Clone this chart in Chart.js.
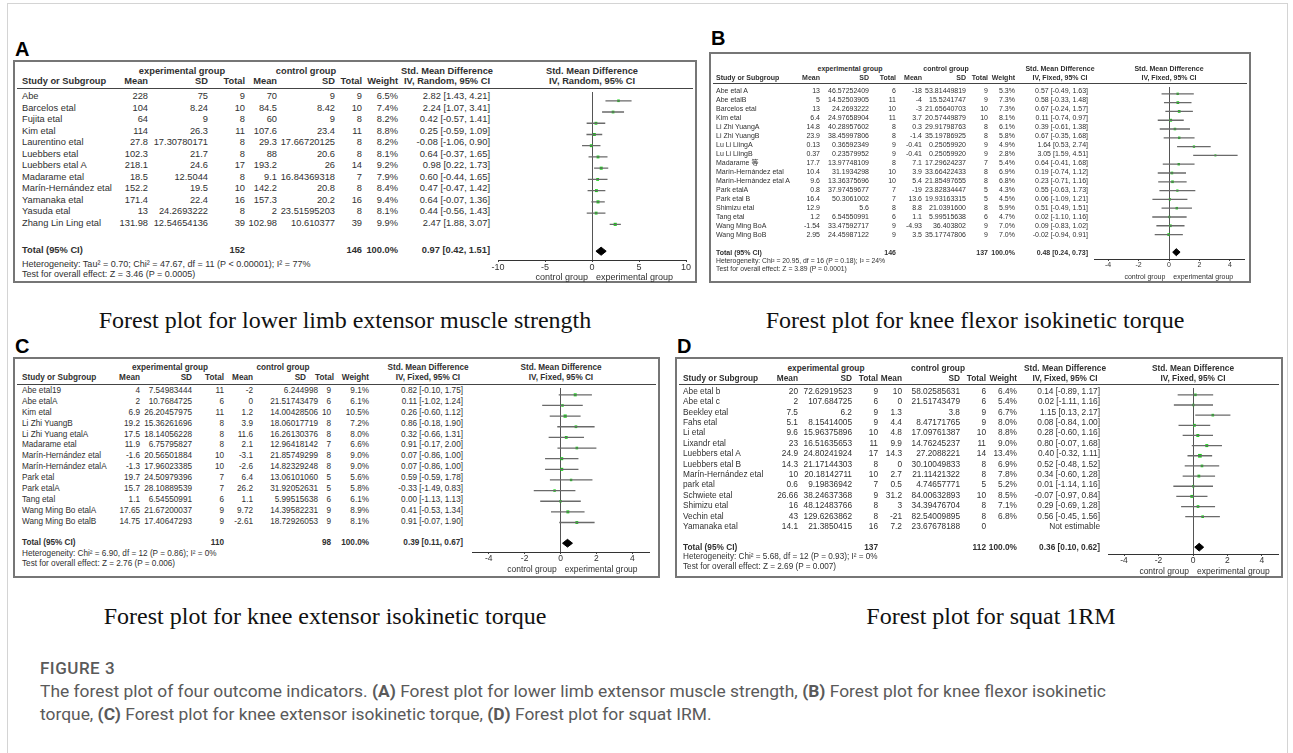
<!DOCTYPE html>
<html>
<head>
<meta charset="utf-8">
<script src="https://cdn.jsdelivr.net/npm/chart.js@4.4.0/dist/chart.umd.min.js"></script>
<style>
  body { margin: 0; background: #fff; }
  #fig { position: relative; width: 1293px; height: 753px; overflow: hidden; background: #fff; }
  #fig .t { position: absolute; white-space: nowrap; font-family: "Liberation Sans", "Noto Sans CJK SC", sans-serif; color: #303030; }
  #fig .box { position: absolute; box-sizing: border-box; border: 2px solid #767676; background: #fff; }
  #fig .rule { position: absolute; height: 1px; background: #444; }
  #fig canvas { position: absolute; }
  #frame { position: absolute; left: 7px; top: 3px; width: 1279px; height: 800px; border: 1px solid #d4d4d4; }
</style>
</head>
<body>
<div id="fig"><div id="frame"></div></div>
<script>
// ---- A: lower limb extensor muscle strength (random effects)
const aStudy = ['Abe', 'Barcelos etal', 'Fujita etal', 'Kim etal', 'Laurentino etal', 'Luebbers etal', 'Luebbers etal A', 'Madarame etal', 'Marín-Hernández etal', 'Yamanaka etal', 'Yasuda etal', 'Zhang Lin Ling etal'];
const aExpMean = ['228', '104', '64', '114', '27.8', '102.3', '218.1', '18.5', '152.2', '171.4', '13', '131.98'];
const aExpSD = ['75', '8.24', '9', '26.3', '17.30780171', '21.7', '24.6', '12.5044', '19.5', '22.4', '24.2693222', '12.54654136'];
const aExpN = [9, 10, 8, 11, 8, 8, 17, 8, 10, 16, 8, 39];
const aCtlMean = ['70', '84.5', '60', '107.6', '29.3', '88', '193.2', '9.1', '142.2', '157.3', '2', '102.98'];
const aCtlSD = ['9', '8.42', '9', '23.4', '17.66720125', '20.6', '26', '16.84369318', '20.8', '20.2', '23.51595203', '10.610377'];
const aCtlN = [9, 10, 8, 11, 8, 8, 14, 7, 8, 16, 8, 39];
const aWeight = [6.5, 7.4, 8.2, 8.8, 8.2, 8.1, 9.2, 7.9, 8.4, 9.4, 8.1, 9.9];
const aSMD = [2.82, 2.24, 0.42, 0.25, -0.08, 0.64, 0.98, 0.60, 0.47, 0.64, 0.44, 2.47];
const aLow = [1.43, 1.07, -0.57, -0.59, -1.06, -0.37, 0.22, -0.44, -0.47, -0.07, -0.56, 1.88];
const aHigh = [4.21, 3.41, 1.41, 1.09, 0.90, 1.65, 1.73, 1.65, 1.42, 1.36, 1.43, 3.07];
const aTotalN = [152, 146];
const aPooled = [0.97, 0.42, 1.51];
const aTicks = [-10, -5, 0, 5, 10];
const aHet = 'Heterogeneity: Tau² = 0.70; Chi² = 47.67, df = 11 (P < 0.00001); I² = 77%';
const aTest = 'Test for overall effect: Z = 3.46 (P = 0.0005)';

// ---- B: knee flexor isokinetic torque
const bStudy = ['Abe etal A', 'Abe etalB', 'Barcelos etal', 'Kim etal', 'Li Zhi YuangA', 'Li Zhi YuangB', 'Lu Li LiingA', 'Lu Li LiingB', 'Madarame 等', 'Marín-Hernández etal', 'Marín-Hernández etal A', 'Park etalA', 'Park etal B', 'Shimizu etal', 'Tang etal', 'Wang Ming BoA', 'Wang Ming BoB'];
const bExpMean = ['13', '5', '13', '6.4', '14.8', '23.9', '0.13', '0.37', '17.7', '10.4', '9.6', '0.8', '16.4', '12.9', '1.2', '-1.54', '2.95'];
const bExpSD = ['46.57252409', '14.52503905', '24.2693222', '24.97658904', '40.28957602', '38.45997806', '0.36592349', '0.23579952', '13.97748109', '31.1934298', '13.36375696', '37.97459677', '50.3061002', '5.6', '6.54550991', '33.47592717', '24.45987122'];
const bExpN = [6, 11, 10, 11, 8, 8, 9, 9, 8, 10, 10, 7, 7, 8, 6, 9, 9];
const bCtlMean = ['-18', '-4', '-3', '3.7', '0.3', '-1.4', '-0.41', '-0.41', '7.1', '3.9', '5.4', '-19', '13.6', '8.8', '1.1', '-4.93', '3.5'];
const bCtlSD = ['53.81449819', '15.5241747', '21.65640703', '20.57449879', '29.91798763', '35.19786925', '0.25059920', '0.25059920', '17.29624237', '33.66422433', '21.85497655', '23.82834447', '19.93163315', '21.0391600', '5.99515638', '36.403802', '35.17747806'];
const bCtlN = [9, 9, 10, 10, 8, 8, 9, 9, 7, 8, 8, 5, 5, 8, 6, 9, 9];
const bWeight = [5.3, 7.3, 7.3, 8.1, 6.1, 5.8, 4.9, 2.8, 5.4, 6.9, 6.8, 4.3, 4.5, 5.9, 4.7, 7.0, 7.0];
const bSMD = [0.57, 0.58, 0.67, 0.11, 0.39, 0.67, 1.64, 3.05, 0.64, 0.19, 0.23, 0.55, 0.06, 0.51, 0.02, 0.09, -0.02];
const bLow = [-0.49, -0.33, -0.24, -0.74, -0.61, -0.35, 0.53, 1.59, -0.41, -0.74, -0.71, -0.63, -1.09, -0.49, -1.10, -0.83, -0.94];
const bHigh = [1.63, 1.48, 1.57, 0.97, 1.38, 1.68, 2.74, 4.51, 1.68, 1.12, 1.16, 1.73, 1.21, 1.51, 1.16, 1.02, 0.91];
const bTotalN = [146, 137];
const bPooled = [0.48, 0.24, 0.73];
const bTicks = [-4, -2, 0, 2, 4];
const bHet = 'Heterogeneity: Chi² = 20.95, df = 16 (P = 0.18); I² = 24%';
const bTest = 'Test for overall effect: Z = 3.89 (P = 0.0001)';

// ---- C: knee extensor isokinetic torque
const cStudy = ['Abe etal19', 'Abe etalA', 'Kim etal', 'Li Zhi YuangB', 'Li Zhi Yuang etalA', 'Madarame etal', 'Marín-Hernández etal', 'Marín-Hernández etalA', 'Park etal', 'Park etalA', 'Tang etal', 'Wang Ming Bo etalA', 'Wang Ming Bo etalB'];
const cExpMean = ['4', '2', '6.9', '19.2', '17.5', '11.9', '-1.6', '-1.3', '19.7', '15.7', '1.1', '17.65', '14.75'];
const cExpSD = ['7.54983444', '10.7684725', '26.20457975', '15.36261696', '18.14056228', '6.75795827', '20.56501884', '17.96023385', '24.50979396', '28.10889539', '6.54550991', '21.67200037', '17.40647293'];
const cExpN = [11, 6, 11, 8, 8, 8, 10, 10, 7, 7, 6, 9, 9];
const cCtlMean = ['-2', '0', '1.2', '3.9', '11.6', '2.1', '-3.1', '-2.6', '6.4', '26.2', '1.1', '9.72', '-2.61'];
const cCtlSD = ['6.244998', '21.51743479', '14.00428506', '18.06017719', '16.26130376', '12.96418142', '21.85749299', '14.82329248', '13.06101060', '31.92052631', '5.99515638', '14.39582231', '18.72926053'];
const cCtlN = [9, 6, 10, 8, 8, 7, 8, 8, 5, 5, 6, 9, 9];
const cWeight = [9.1, 6.1, 10.5, 7.2, 8.0, 6.6, 9.0, 9.0, 5.6, 5.8, 6.1, 8.9, 8.1];
const cSMD = [0.82, 0.11, 0.26, 0.86, 0.32, 0.91, 0.07, 0.07, 0.59, -0.33, 0.00, 0.41, 0.91];
const cLow = [-0.10, -1.02, -0.60, -0.18, -0.66, -0.17, -0.86, -0.86, -0.59, -1.49, -1.13, -0.53, -0.07];
const cHigh = [1.75, 1.24, 1.12, 1.90, 1.31, 2.00, 1.00, 1.00, 1.78, 0.83, 1.13, 1.34, 1.90];
const cTotalN = [110, 98];
const cPooled = [0.39, 0.11, 0.67];
const cTicks = [-4, -2, 0, 2, 4];
const cHet = 'Heterogeneity: Chi² = 6.90, df = 12 (P = 0.86); I² = 0%';
const cTest = 'Test for overall effect: Z = 2.76 (P = 0.006)';

// ---- D: squat 1RM
const dStudy = ['Abe etal b', 'Abe etal c', 'Beekley etal', 'Fahs etal', 'Li etal', 'Lixandr etal', 'Luebbers etal A', 'Luebbers etal B', 'Marín-Hernández etal', 'park etal', 'Schwiete etal', 'Shimizu etal', 'Vechin etal', 'Yamanaka etal'];
const dExpMean = ['20', '2', '7.5', '5.1', '9.6', '23', '24.9', '14.3', '10', '0.6', '26.66', '16', '43', '14.1'];
const dExpSD = ['72.62919523', '107.684725', '6.2', '8.15414005', '15.96375896', '16.51635653', '24.80241924', '21.17144303', '20.18142711', '9.19836942', '38.24637368', '48.12483766', '129.6263862', '21.3850415'];
const dExpN = [9, 6, 9, 9, 10, 11, 17, 8, 10, 7, 9, 8, 8, 16];
const dCtlMean = ['10', '0', '1.3', '4.4', '4.8', '9.9', '14.3', '0', '2.7', '0.5', '31.2', '3', '-21', '7.2'];
const dCtlSD = ['58.02585631', '21.51743479', '3.8', '8.47171765', '17.09761387', '14.76245237', '27.2088221', '30.10049833', '21.11421322', '4.74657771', '84.00632893', '34.39476704', '82.54009895', '23.67678188'];
const dCtlN = [6, 6, 9, 9, 10, 11, 14, 8, 8, 5, 10, 8, 8, 0];
const dWeight = [6.4, 5.4, 6.7, 8.0, 8.8, 9.0, 13.4, 6.9, 7.8, 5.2, 8.5, 7.1, 6.8, null];
const dSMD = [0.14, 0.02, 1.15, 0.08, 0.28, 0.80, 0.40, 0.52, 0.34, 0.01, -0.07, 0.29, 0.56, null];
const dLow = [-0.89, -1.11, 0.13, -0.84, -0.60, -0.07, -0.32, -0.48, -0.60, -1.14, -0.97, -0.69, -0.45, null];
const dHigh = [1.17, 1.16, 2.17, 1.00, 1.16, 1.68, 1.11, 1.52, 1.28, 1.16, 0.84, 1.28, 1.56, null];
const dTotalN = [137, 112];
const dPooled = [0.36, 0.10, 0.62];
const dTicks = [-4, -2, 0, 2, 4];
const dHet = 'Heterogeneity: Chi² = 5.68, df = 12 (P = 0.93); I² = 0%';
const dTest = 'Test for overall effect: Z = 2.69 (P = 0.007)';

const W = 1293;
const fig = document.getElementById('fig');

function put(s, x, y, size, align, css, html) {
  const d = document.createElement('div');
  d.className = 't';
  if (html) d.innerHTML = s; else d.textContent = s;
  d.style.cssText = 'font-size:' + size + 'px;line-height:' + size + 'px;top:' + (y - size / 2) + 'px;' + (css || '');
  if (align === 'right') d.style.right = (W - x) + 'px';
  else if (align === 'center') { d.style.left = (x - 400) + 'px'; d.style.width = '800px'; d.style.textAlign = 'center'; }
  else d.style.left = x + 'px';
  fig.appendChild(d);
  return d;
}

function ciText(e, l, h) {
  return e.toFixed(2) + ' [' + l.toFixed(2) + ', ' + h.toFixed(2) + ']';
}

function drawPanel(L, D) {
  const box = document.createElement('div');
  box.className = 'box';
  box.style.left = L.box[0] + 'px';
  box.style.top = L.box[1] + 'px';
  box.style.width = (L.box[2] - L.box[0]) + 'px';
  box.style.height = (L.box[3] - L.box[1]) + 'px';
  fig.appendChild(box);
  put(L.letter, L.letterPos[0], L.letterPos[1], 20, 'left', 'font-weight:bold;color:#000');

  const f = L.font, c = L.cols, hc = L.hcols || L.cols, hb = 'font-weight:bold';
  put('experimental group', L.hdr[0], L.hy[0], f, 'center', hb);
  put('control group', L.hdr[1], L.hy[0], f, 'center', hb);
  put('Std. Mean Difference', L.hdr[2], L.hy[0], f, 'center', hb);
  put('Std. Mean Difference', L.hdr[3], L.hy[0], f, 'center', hb);
  put('Study or Subgroup', L.studyX, L.hy[1], f, 'left', hb);
  ['Mean', 'SD', 'Total', 'Mean', 'SD', 'Total', 'Weight'].forEach((h, k) => put(h, hc[k], L.hy[1], f, 'right', hb));
  put(L.method, L.hdr[2], L.hy[1], f, 'center', hb);
  put(L.method, L.hdr[3], L.hy[1], f, 'center', hb);
  const ul = document.createElement('div');
  ul.className = 'rule';
  ul.style.left = (L.box[0] + 4) + 'px';
  ul.style.width = (L.box[2] - L.box[0] - 8) + 'px';
  ul.style.top = L.underY + 'px';
  fig.appendChild(ul);

  D.study.forEach((s, i) => {
    const y = L.rowTop + i * L.rowH;
    put(s, L.studyX, y, f);
    [D.expMean[i], D.expSD[i], D.expN[i], D.ctlMean[i], D.ctlSD[i], D.ctlN[i]].forEach((v, k) => put(String(v), c[k], y, f, 'right'));
    if (D.weight[i] != null) put(D.weight[i].toFixed(1) + '%', c[6], y, f, 'right');
    put(D.smd[i] == null ? 'Not estimable' : ciText(D.smd[i], D.low[i], D.high[i]), c[7], y, f, 'right');
  });

  const ty = L.totalY;
  put('Total (95% CI)', L.studyX, ty, f, 'left', hb);
  put(String(D.totalN[0]), c[2], ty, f, 'right', hb);
  put(String(D.totalN[1]), c[5], ty, f, 'right', hb);
  put('100.0%', c[6], ty, f, 'right', hb);
  put(ciText(D.pooled[0], D.pooled[1], D.pooled[2]), c[7], ty, f, 'right', hb);
  put(D.het, L.studyX, ty + L.noteDy[0], L.noteFont);
  put(D.test, L.studyX, ty + L.noteDy[1], L.noteFont);

  // forest plot: canvas covers the plot column from the header rule to below the axis
  const padX = 16;
  const axH = 16;
  const cv = document.createElement('canvas');
  cv.width = Math.round(L.plot[1] - L.plot[0] + 2 * padX);
  cv.height = Math.round(L.axisY - L.underY + axH);
  cv.style.left = (L.plot[0] - padX) + 'px';
  cv.style.top = L.underY + 'px';
  fig.appendChild(cv);

  const ciLines = [], squares = [], sizes = [];
  D.study.forEach((s, i) => {
    if (D.smd[i] == null) return;
    ciLines.push({ x: D.low[i], y: i }, { x: D.high[i], y: i }, { x: null, y: null });
    squares.push({ x: D.smd[i], y: i });
    sizes.push(1.1 + D.weight[i] / 9);
  });
  const tv = (L.totalY - L.rowTop) / L.rowH;
  const h = 0.36 * L.dia / L.rowH;
  const [est, lo, hi] = D.pooled;

  const chart = new Chart(cv, {
    type: 'line',
    data: {
      datasets: [
        { data: ciLines, borderColor: '#6a6a6a', borderWidth: 1.3, pointRadius: 0, spanGaps: false },
        { data: squares, showLine: false, pointStyle: 'rect', pointRadius: sizes, backgroundColor: '#10d010', borderWidth: 0 },
        // pooled diamond: upper half filled down to the lower half
        { data: [{ x: lo, y: tv }, { x: est, y: tv - h }, { x: hi, y: tv }], fill: '+1', backgroundColor: '#000', borderColor: '#000', borderWidth: 1, pointRadius: 0 },
        { data: [{ x: lo, y: tv }, { x: est, y: tv + h }, { x: hi, y: tv }], fill: false, borderColor: '#000', borderWidth: 1, pointRadius: 0 }
      ]
    },
    options: {
      responsive: false,
      animation: false,
      layout: { padding: { left: padX, right: padX, top: 0, bottom: 0 } },
      plugins: { legend: { display: false }, tooltip: { enabled: false } },
      scales: {
        x: {
          type: 'linear',
          min: L.xRange[0],
          max: L.xRange[1],
          afterBuildTicks: s => { s.ticks = D.ticks.map(v => ({ value: v })); },
          afterFit: s => { s.height = axH; },
          grid: {
            color: ctx => (ctx.tick && ctx.tick.value === 0 ? '#555' : 'rgba(0,0,0,0)'),
            tickColor: '#444',
            tickLength: 2,
            lineWidth: 1
          },
          border: { color: '#333', width: 1 },
          ticks: { font: { size: L.tickFont, family: 'Liberation Sans' }, color: '#333', padding: 0, maxRotation: 0 }
        },
        y: {
          type: 'linear',
          display: false,
          reverse: true,
          min: (L.underY - L.rowTop) / L.rowH,
          max: (L.axisY - L.rowTop) / L.rowH
        }
      }
    }
  });

  const zx = L.plot[0] - padX + chart.scales.x.getPixelForValue(0);
  put('control group', zx - 4, L.axisY + 17, L.tickFont, 'right');
  put('experimental group', zx + 4, L.axisY + 17, L.tickFont, 'left');
}

drawPanel({
  letter: 'A', letterPos: [15, 49], box: [13, 60, 697, 283], font: 9.3, noteFont: 9, tickFont: 9,
  method: 'IV, Random, 95% CI', studyX: 22, cols: [148, 208, 245, 277, 335, 362, 398, 490],
  hdr: [182, 306, 447, 592], hy: [72, 82], underY: 88, rowTop: 97, rowH: 11.5, totalY: 251,
  noteDy: [13, 23], axisY: 260, plot: [498, 686], xRange: [-10, 10], dia: 11.5
}, { study: aStudy, expMean: aExpMean, expSD: aExpSD, expN: aExpN, ctlMean: aCtlMean, ctlSD: aCtlSD, ctlN: aCtlN,
     weight: aWeight, smd: aSMD, low: aLow, high: aHigh, totalN: aTotalN, pooled: aPooled, ticks: aTicks, het: aHet, test: aTest });

drawPanel({
  letter: 'B', letterPos: [711, 38], box: [709, 52, 1251, 283], font: 7, noteFont: 6.8, tickFont: 7,
  method: 'IV, Fixed, 95% CI', studyX: 716, cols: [820, 869, 896, 922, 966, 988, 1015, 1088],
  hdr: [850, 946, 1060, 1169], hy: [68, 77], underY: 83, rowTop: 90, rowH: 9.0, totalY: 252,
  noteDy: [9, 17], axisY: 259, plot: [1094.3, 1244.3], xRange: [-4.93, 4.93], dia: 10
}, { study: bStudy, expMean: bExpMean, expSD: bExpSD, expN: bExpN, ctlMean: bCtlMean, ctlSD: bCtlSD, ctlN: bCtlN,
     weight: bWeight, smd: bSMD, low: bLow, high: bHigh, totalN: bTotalN, pooled: bPooled, ticks: bTicks, het: bHet, test: bTest });

drawPanel({
  letter: 'C', letterPos: [15, 346], box: [13, 357, 660, 578], font: 8.2, noteFont: 8.2, tickFont: 8.5,
  method: 'IV, Fixed, 95% CI', studyX: 22, cols: [140, 192, 224, 253, 318, 331, 369, 463],
  hcols: [140, 192, 224, 253, 306, 334, 369],
  hdr: [170, 283, 428, 561], hy: [368, 378], underY: 384, rowTop: 391, rowH: 10.9, totalY: 543,
  noteDy: [11, 21], axisY: 552, plot: [472.3, 649.7], xRange: [-4.93, 4.93], dia: 11
}, { study: cStudy, expMean: cExpMean, expSD: cExpSD, expN: cExpN, ctlMean: cCtlMean, ctlSD: cCtlSD, ctlN: cCtlN,
     weight: cWeight, smd: cSMD, low: cLow, high: cHigh, totalN: cTotalN, pooled: cPooled, ticks: cTicks, het: cHet, test: cTest });

drawPanel({
  letter: 'D', letterPos: [677, 346], box: [675, 357, 1283, 578], font: 8.3, noteFont: 8.2, tickFont: 8.5,
  method: 'IV, Fixed, 95% CI', studyX: 683, cols: [798, 852, 878, 902, 960, 986, 1017, 1100],
  hdr: [826, 938, 1065, 1193], hy: [368, 378], underY: 384, rowTop: 391, rowH: 10.4, totalY: 547,
  noteDy: [10, 20], axisY: 554, plot: [1108, 1278], xRange: [-4.93, 4.93], dia: 11
}, { study: dStudy, expMean: dExpMean, expSD: dExpSD, expN: dExpN, ctlMean: dCtlMean, ctlSD: dCtlSD, ctlN: dCtlN,
     weight: dWeight, smd: dSMD, low: dLow, high: dHigh, totalN: dTotalN, pooled: dPooled, ticks: dTicks, het: dHet, test: dTest });

// panel captions
const serif = 'font-family:"Liberation Serif",serif;color:#111';
put('Forest plot for lower limb extensor muscle strength', 345, 320, 24, 'center', serif);
put('Forest plot for knee flexor isokinetic torque', 975, 320, 24, 'center', serif);
put('Forest plot for knee extensor isokinetic torque', 325, 616, 24, 'center', serif);
put('Forest plot for squat 1RM', 991, 616, 24, 'center', serif);

// figure legend
const cap = 'font-family:Roboto,sans-serif;color:#5a5a5a';
put('FIGURE 3', 40, 668, 17, 'left', cap + ';font-weight:500;letter-spacing:0.5px');
put('The forest plot of four outcome indicators. <b>(A)</b> Forest plot for lower limb extensor muscle strength, <b>(B)</b> Forest plot for knee flexor isokinetic', 40, 692, 17.4, 'left', cap, true);
put('torque, <b>(C)</b> Forest plot for knee extensor isokinetic torque, <b>(D)</b> Forest plot for squat IRM.', 40, 715, 17.4, 'left', cap, true);
</script>
</body>
</html>
